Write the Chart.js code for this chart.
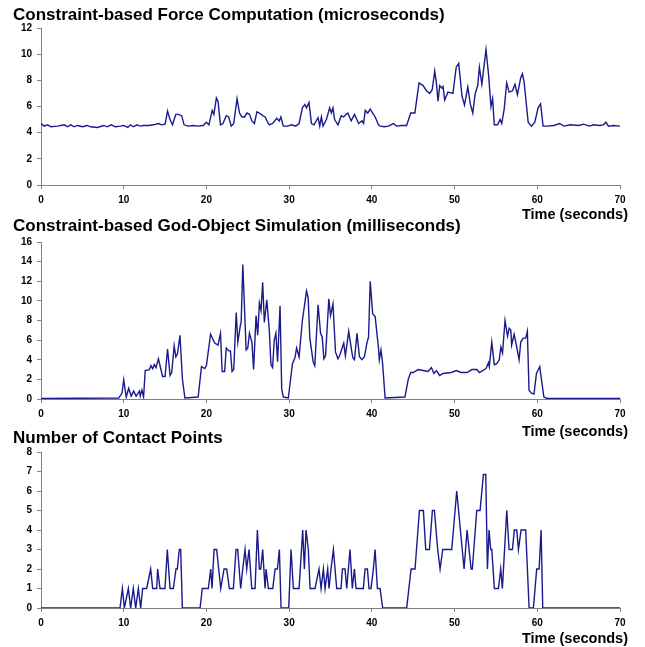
<!DOCTYPE html>
<html>
<head>
<meta charset="utf-8">
<script src="https://cdn.jsdelivr.net/npm/chart.js@4.4.0/dist/chart.umd.min.js"></script>
<style>
  body { margin: 0; background: #fff; }
  #wrap { position: relative; width: 645px; height: 647px; }
  canvas { position: absolute; left: 0; top: 0; }
</style>
</head>
<body>
<div id="wrap">
  <canvas id="chart1" width="645" height="647"></canvas>
  <canvas id="chart2" width="645" height="647"></canvas>
  <canvas id="chart3" width="645" height="647"></canvas>
</div>
<script>
// force computation (microseconds)
var forceTime = [0,0.4,0.8,1.2,2,2.8,3.2,3.6,4,4.4,5,5.6,6,6.8,7.6,8,8.5,9,9.6,10,10.5,10.8,11.2,11.6,12,12.4,13,13.6,14.2,14.6,15,15.3,15.6,15.9,16.3,16.6,17,17.3,17.8,18.4,19,19.6,20,20.3,20.7,20.9,21.2,21.4,21.7,22,22.4,22.7,23,23.3,23.7,24,24.3,24.6,24.9,25.2,25.5,25.8,26.1,26.4,26.8,27.1,27.4,27.6,28,28.5,28.8,29,29.3,29.8,30.3,30.8,31.2,31.6,31.9,32.1,32.4,32.7,33,33.5,33.7,33.9,34.1,34.5,34.9,35.1,35.3,35.5,35.9,36.3,36.6,36.9,37.1,37.5,37.9,38.4,38.8,39,39.2,39.5,39.8,40.1,40.4,40.8,41,41.5,42,42.6,43,43.6,44.2,44.7,45.2,45.7,46.2,46.6,47,47.3,47.6,47.8,48,48.2,48.5,48.6,48.8,49.2,49.8,50.2,50.5,50.9,51.2,51.6,51.9,52.2,52.5,52.8,53,53.3,53.8,54.1,54.4,54.6,54.8,55.2,55.5,55.7,56,56.3,56.6,57,57.3,57.6,58,58.2,58.4,58.9,59.3,59.7,60.1,60.4,60.7,61.2,62,62.7,63.2,64,65,65.6,66.3,66.8,67.5,68,68.3,68.6,69.2,70];
var forceValues = [4.7,4.5,4.6,4.45,4.5,4.6,4.45,4.6,4.45,4.55,4.45,4.55,4.45,4.4,4.55,4.45,4.6,4.45,4.5,4.55,4.4,4.6,4.45,4.6,4.5,4.55,4.55,4.6,4.7,4.6,4.65,5.65,5.0,4.6,5.4,5.4,5.3,4.6,4.5,4.55,4.5,4.55,4.8,4.6,5.7,5.4,6.65,6.4,4.6,4.7,5.3,5.2,4.5,4.7,6.6,5.5,5.2,5.2,5.5,5.4,4.9,4.7,5.6,5.5,5.3,5.2,4.8,4.6,4.7,5.1,4.9,5.2,4.5,4.5,4.6,4.5,4.7,5.9,6.15,5.9,6.3,4.7,4.6,5.15,4.5,5.2,4.5,5.0,5.9,5.5,5.9,5.0,4.6,5.3,5.2,5.4,5.5,4.9,5.4,4.7,4.9,4.7,5.7,5.5,5.8,5.5,5.2,4.6,4.5,4.45,4.5,4.7,4.5,4.55,4.55,5.5,5.5,7.8,7.6,7.2,7.0,7.3,8.7,7.8,6.4,7.6,7.4,7.6,6.5,7.1,7.0,9.0,9.3,6.8,6.1,7.5,6.2,5.5,7.0,7.6,9.0,7.7,10.35,8.5,6.0,6.6,4.6,4.6,5.0,4.7,5.8,7.8,7.1,7.2,7.7,6.9,8.2,8.5,7.9,4.8,4.5,4.8,5.9,6.2,4.5,4.5,4.55,4.7,4.5,4.6,4.55,4.65,4.5,4.6,4.55,4.6,4.8,4.5,4.55,4.5];

// god-object simulation (milliseconds)
var godTime = [0,9.4,9.8,10,10.3,10.6,10.9,11.2,11.5,11.9,12,12.2,12.4,12.6,13.1,13.3,13.5,13.7,13.9,14.2,14.7,15,15.3,15.6,15.8,16.1,16.3,16.5,16.8,17.1,17.4,19,19.4,19.8,20,20.5,21,21.4,21.7,21.9,22.2,22.4,22.7,22.9,23.1,23.3,23.6,23.8,24.1,24.2,24.4,24.8,25,25.2,25.5,25.7,26,26.2,26.4,26.6,26.8,27,27.3,27.6,27.8,28,28.2,28.4,28.6,28.9,29.1,29.3,29.9,30.4,30.7,30.9,31.2,31.3,31.6,32.1,32.3,32.5,32.9,33.1,33.5,33.8,34,34.2,34.4,34.8,35,35.3,35.6,35.9,36.1,36.6,36.8,37.2,37.5,37.7,37.9,38.2,38.5,38.8,39.1,39.4,39.6,39.8,40.1,40.4,40.8,40.9,41.1,41.3,41.6,44,44.4,44.7,45,45.6,46.2,46.8,47.2,47.5,47.8,48.2,48.6,49.6,50.2,50.8,51.5,52.1,52.7,53,53.8,54.1,54.2,54.5,54.8,55.1,55.4,55.6,55.8,56.1,56.4,56.6,56.8,56.9,57.2,57.4,57.8,58,58.3,58.6,58.8,59,59.3,59.6,59.9,60.3,60.5,60.8,61.2,70];
var godValues = [0.05,0.1,0.6,1.95,0.2,1.1,0.3,0.8,0.3,0.8,0.3,0.9,0.2,2.9,3.0,3.4,3.1,3.5,3.2,4.1,2.3,2.3,5.1,2.4,2.7,5.4,4.3,4.6,6.5,2.0,0.1,0.2,3.3,3.1,3.4,6.6,5.7,5.5,6.7,2.8,2.8,5.2,4.9,4.9,2.8,3.0,8.8,5.8,7.5,7.8,13.7,5.0,5.2,6.7,5.8,3.0,8.5,6.5,9.8,9.0,11.9,7.8,10.1,7.0,3.5,3.2,6.0,6.7,3.8,9.5,1.0,0.2,0.1,3.6,4.2,5.2,4.3,4.3,8.0,11.0,10.3,6.2,3.8,3.4,9.6,6.7,6.3,4.1,4.4,10.2,8.5,9.7,4.8,4.1,4.4,5.7,4.4,6.9,5.2,4.2,4.0,6.7,4.3,4.0,4.3,5.7,6.3,12.0,8.7,8.4,5.2,4.0,5.0,3.6,0.1,0.2,2.0,2.7,2.7,3.0,2.9,2.8,3.2,2.6,2.9,2.4,2.6,2.7,2.9,2.7,2.7,3.0,3.0,2.7,3.1,3.7,3.3,5.8,3.5,3.6,4.0,5.3,4.7,8.0,6.4,7.2,7.0,5.5,6.6,5.8,4.0,5.8,6.2,6.2,6.9,0.9,0.6,0.5,2.6,3.3,2.0,0.2,0.05,0.05];

// number of contact points
var contactTime = [0,9.55,9.84,10.08,10.56,10.84,11.16,11.45,11.77,12.05,12.29,12.78,13.26,13.5,13.99,14.1,14.39,14.99,15.27,15.6,16,16.32,16.48,16.72,16.89,17.09,19.23,19.5,20.23,20.52,20.68,20.92,21.24,21.73,22.13,22.45,22.77,23.26,23.58,23.78,24.14,24.39,24.67,24.87,25.15,25.48,25.88,26.16,26.4,26.57,26.8,27.09,27.21,27.49,28.02,28.3,28.58,28.82,29.02,29.95,30.23,30.51,31.2,31.64,31.84,32.04,32.32,32.53,33.13,33.61,33.86,34.14,34.34,34.66,34.82,35.06,35.35,35.75,36.27,36.44,36.76,36.96,37.36,37.64,37.89,38.09,38.97,39.18,39.46,39.66,39.9,40.18,40.39,40.67,40.99,41.31,44.21,44.74,45.22,45.75,46.23,46.51,46.96,47.32,47.56,47.96,48.25,48.57,49.66,50.26,51.15,51.51,52,52.15,52.68,53.08,53.49,53.77,53.97,54.17,54.37,54.5,54.81,55.3,55.58,55.78,56.31,56.59,56.99,57.23,57.52,57.72,58.04,58.6,59.01,59.53,59.93,60.22,60.46,60.66,70];
var contactValues = [0,0,1,0,1,0,1,0,1,0,1,1,2,1,1,2,1,1,3,1,1,2,2,3,3,0,0,1,1,2,1,3,3,1,2,2,1,1,3,3,1,2,3,2,3,1,1,4,2,2,3,1,2,1,1,2,2,3,0,0,3,1,1,4,2,4,3,1,1,2,1,2,1,2,1,2,3,1,1,2,2,1,3,1,2,1,1,2,2,1,1,2,3,1,1,0,0,2,2,5,5,3,3,5,5,3,2,3,3,6,2,4,2,2,5,5,6.85,6.85,2,4,3,3,1,1,2,1,5,3,3,4,4,3,4,4,0,0,2,2,4,0,0];

var lineColor = '#1a1a8c';
var axisColor = '#808080';
var fontFamily = '"Liberation Sans", Arial, sans-serif';

function points(times, values) {
  return times.map(function(t, i) { return { x: t, y: values[i] }; });
}

// titles drawn by hand so they sit where the original puts them
var textPlugin = {
  id: 'texts',
  afterDraw: function(chart, args, opts) {
    var c = chart.ctx;
    c.save();
    c.fillStyle = '#000';
    c.textBaseline = 'alphabetic';
    c.font = 'bold 17px ' + fontFamily;
    c.textAlign = 'left';
    c.fillText(opts.title, 13, opts.titleY);
    c.font = 'bold 14.5px ' + fontFamily;
    c.textAlign = 'right';
    c.fillText('Time (seconds)', 628, opts.axisY);
    c.restore();
  }
};

function makeChart(id, times, values, yMax, yStep, top, bottom, title, titleY, axisY) {
  var ctx = document.getElementById(id).getContext('2d');
  return new Chart(ctx, {
    type: 'line',
    data: {
      datasets: [{
        data: points(times, values),
        borderColor: lineColor,
        borderWidth: 1.4,
        pointRadius: 0,
        tension: 0,
        fill: false
      }]
    },
    options: {
      responsive: false,
      animation: false,
      layout: { padding: { top: top, bottom: 647 - bottom - 30, left: 0, right: 25 } },
      plugins: {
        legend: { display: false },
        tooltip: { enabled: false },
        texts: { title: title, titleY: titleY, axisY: axisY }
      },
      scales: {
        x: {
          type: 'linear',
          min: 0,
          max: 70,
          afterFit: function(scale) { scale.height = 30; },
          ticks: { stepSize: 10, color: '#000', padding: 5, maxRotation: 0, font: { family: fontFamily, size: 10, weight: 'bold' } },
          grid: { drawOnChartArea: false, tickLength: 4, color: axisColor },
          border: { color: axisColor, width: 1 }
        },
        y: {
          min: 0,
          max: yMax,
          afterFit: function(scale) { scale.width = 41; },
          ticks: { stepSize: yStep, color: '#000', padding: 5, font: { family: fontFamily, size: 10, weight: 'bold' } },
          grid: { drawOnChartArea: false, tickLength: 4, color: axisColor },
          border: { color: axisColor, width: 1 }
        }
      }
    },
    plugins: [textPlugin]
  });
}

window.onload = function() {
  makeChart('chart1', forceTime, forceValues, 12, 2, 28, 185,
    'Constraint-based Force Computation (microseconds)', 20, 219);
  makeChart('chart2', godTime, godValues, 16, 2, 242, 399,
    'Constraint-based God-Object Simulation (milliseconds)', 231, 436);
  makeChart('chart3', contactTime, contactValues, 8, 1, 452, 608,
    'Number of Contact Points', 443, 643);
};
</script>
</body>
</html>
